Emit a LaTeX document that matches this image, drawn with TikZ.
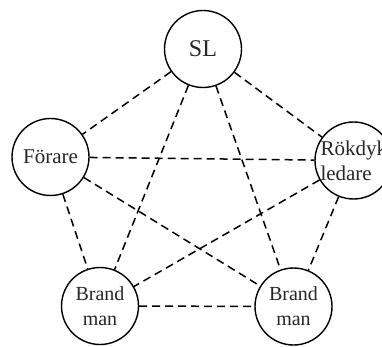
\documentclass[tikz,border=0pt]{standalone}
\usepackage{fontspec}
\setmainfont{Liberation Serif}
\begin{document}
\begin{tikzpicture}[x=1pt,y=-1pt,
  circ/.style={draw, circle, line width=1.4pt, minimum size=77pt, inner sep=0pt, text=black!85, font=\fontsize{20}{25}\selectfont, align=center},
  link/.style={line width=1.5pt, dash pattern=on 8pt off 5pt}]
\useasboundingbox (0,0) rectangle (382,347);
\node[circ, font=\fontsize{24}{26}\selectfont] (sl) at (203,49) {SL};
\node[circ, font=\fontsize{21}{25}\selectfont] (fo) at (50.5,157) {Förare};
\node[circ] (rk) at (353.5,160.5) {};
\node[anchor=west, align=left, inner sep=0pt, text=black!85, font=\fontsize{21}{25}\selectfont] (rkt) at ([xshift=6pt]rk.west) {Rökdyk\\ledare};
\node[circ] (bl) at (100,306) {Brand\\man};
\node[circ] (br) at (293.5,306.5) {Brand\\man};
\draw[link] (sl) -- (fo);
\draw[link] (sl) -- (rk);
\draw[link] (sl) -- (bl);
\draw[link] (sl) -- (br);
\draw[link] (fo) -- (rk);
\draw[link] (fo) -- (bl);
\draw[link] (fo) -- (br);
\draw[link] (rk) -- (bl);
\draw[link] (rk) -- (br);
\draw[link] (bl) -- (br);
\end{tikzpicture}
\end{document}
